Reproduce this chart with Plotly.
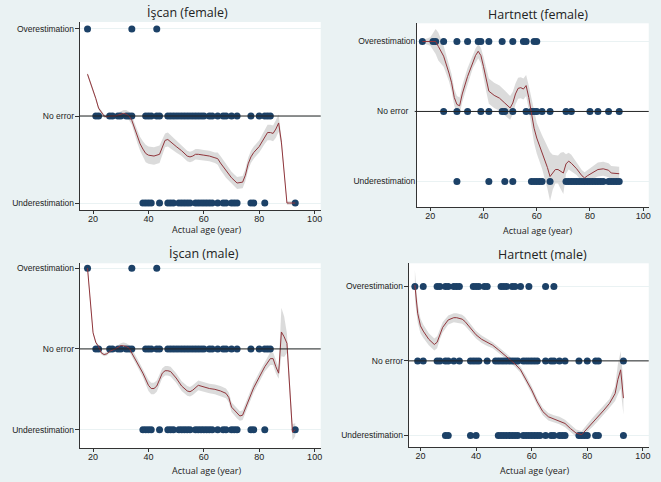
import plotly.graph_objects as go

# ---------------- data ----------------
CAT_VALS = [-1, 0, 1]
CAT_TEXT = ["Underestimation", "No error", "Overestimation"]
X_TICKS = [20, 40, 60, 80, 100]
TITLES = ["İşcan (female)", "Hartnett (female)", "İşcan (male)", "Hartnett (male)"]
X_TITLE = "Actual age (year)"

# İşcan (female)
iscan_f_over = [18, 34, 43]
iscan_f_none = [21, 22, 26, 27, 29, 30, 32, 33, 34, 39, 40, 41, 43, 44, 47, 48, 49, 50, 51, 52,
                53, 54, 55, 56, 57, 58, 59, 60, 62, 63, 65, 67, 68, 70, 72, 77, 80, 82, 83, 84]
iscan_f_under = [38, 39, 40, 41, 44, 47, 48, 49, 51, 52, 53, 54, 55, 57, 58, 59, 60, 61, 62, 63,
                 65, 67, 68, 70, 71, 72, 77, 78, 82, 93]
iscan_f_age = [18, 20, 21, 22, 23, 24, 25, 26, 28, 30, 31, 32, 33, 34, 35, 36, 37, 38, 39, 40,
               42, 44, 45, 46, 47, 48, 50, 52, 54, 55, 56, 57, 58, 60, 62, 64, 65, 66, 68, 70,
               72, 74, 75, 76, 77, 78, 80, 82, 83, 84, 85, 86, 87, 88, 89, 90, 91, 93]
iscan_f_fit = [0.48, 0.30, 0.20, 0.09, 0.04, 0.00, -0.01, 0.00, 0.00, 0.02, 0.03, 0.02, 0.00, -0.05,
               -0.14, -0.24, -0.32, -0.38, -0.43, -0.45, -0.46, -0.44, -0.36, -0.28, -0.27, -0.30,
               -0.35, -0.40, -0.46, -0.47, -0.46, -0.44, -0.44, -0.45, -0.46, -0.48, -0.49, -0.54,
               -0.63, -0.71, -0.77, -0.76, -0.68, -0.55, -0.47, -0.42, -0.35, -0.24, -0.19, -0.19,
               -0.20, -0.15, -0.08, -0.30, -0.65, -1.00, -1.00, -1.00]
iscan_f_ci = [0.02, 0.02, 0.02, 0.02, 0.02, 0.02, 0.02, 0.02, 0.02, 0.03, 0.04, 0.05, 0.05, 0.05,
              0.06, 0.07, 0.08, 0.09, 0.10, 0.10, 0.10, 0.10, 0.09, 0.08, 0.08, 0.08, 0.07, 0.06,
              0.06, 0.06, 0.06, 0.06, 0.06, 0.06, 0.06, 0.06, 0.07, 0.08, 0.08, 0.07, 0.07, 0.07,
              0.07, 0.07, 0.07, 0.07, 0.07, 0.08, 0.09, 0.09, 0.09, 0.10, 0.10, 0.05, 0.03, 0.02,
              0.02, 0.02]

# Hartnett (female)
hart_f_over = [17, 21, 22, 25, 30, 34, 38, 39, 42, 47, 51, 55, 56, 59, 60]
hart_f_none = [25, 30, 34, 39, 42, 47, 48, 51, 56, 58, 59, 60, 62, 65, 71, 73, 80, 83, 87, 91]
hart_f_under = [30, 42, 48, 51, 58, 59, 60, 61, 62, 65, 71, 72, 73, 74, 75, 76, 77, 78, 79, 80,
                81, 82, 83, 84, 85, 87, 88, 89, 90, 91]
hart_f_age = [17, 20, 22, 23, 25, 27, 28, 29, 30, 31, 32, 34, 36, 37, 38, 39, 40, 41, 42, 44, 46,
              48, 50, 51, 52, 53, 54, 55, 56, 57, 58, 59, 60, 62, 64, 65, 66, 67, 68, 69, 70, 71,
              72, 73, 75, 77, 78, 79, 81, 83, 85, 87, 88, 90, 91]
hart_f_fit = [1.00, 1.00, 1.00, 0.93, 0.79, 0.55, 0.41, 0.20, 0.10, 0.08, 0.25, 0.50, 0.72, 0.80,
              0.86, 0.80, 0.64, 0.45, 0.29, 0.23, 0.19, 0.12, 0.05, 0.12, 0.25, 0.33, 0.34, 0.32,
              0.37, 0.20, 0.00, -0.24, -0.38, -0.58, -0.80, -0.93, -0.87, -0.83, -0.83, -0.85,
              -0.88, -0.75, -0.71, -0.74, -0.82, -0.92, -0.95, -0.92, -0.87, -0.83, -0.82, -0.84,
              -0.88, -0.89, -0.89]
hart_f_ci = [0.02, 0.06, 0.18, 0.20, 0.15, 0.12, 0.12, 0.12, 0.12, 0.12, 0.12, 0.12, 0.10, 0.10,
             0.10, 0.11, 0.14, 0.16, 0.18, 0.18, 0.18, 0.18, 0.17, 0.16, 0.15, 0.15, 0.15, 0.15,
             0.15, 0.17, 0.19, 0.21, 0.22, 0.24, 0.30, 0.35, 0.25, 0.20, 0.20, 0.26, 0.30, 0.14,
             0.12, 0.12, 0.09, 0.08, 0.08, 0.08, 0.09, 0.10, 0.10, 0.10, 0.10, 0.10, 0.10]

# İşcan (male)
iscan_m_over = [18, 34, 43]
iscan_m_none = [21, 22, 26, 27, 29, 30, 32, 33, 34, 39, 40, 41, 43, 44, 47, 48, 49, 50, 51, 52,
                53, 54, 55, 56, 57, 58, 59, 60, 62, 63, 65, 67, 68, 70, 72, 77, 80, 82, 83, 84]
iscan_m_under = [38, 39, 40, 41, 44, 47, 48, 49, 51, 52, 53, 54, 55, 57, 58, 59, 60, 61, 62, 63,
                 65, 67, 68, 70, 71, 72, 77, 78, 82, 93]
iscan_m_age = [18, 19, 20, 21, 22, 23, 24, 25, 26, 28, 30, 31, 32, 33, 34, 36, 38, 40, 41, 42, 43,
               44, 45, 46, 47, 48, 50, 52, 54, 55, 56, 58, 60, 62, 64, 66, 68, 69, 70, 72, 73, 74,
               76, 78, 80, 82, 84, 85, 86, 87, 88, 89, 90, 91, 92, 93]
iscan_m_fit = [1.00, 0.55, 0.20, 0.08, 0.03, -0.05, -0.07, -0.06, -0.03, 0.00, 0.04, 0.04, 0.03,
               0.01, -0.05, -0.17, -0.30, -0.45, -0.49, -0.49, -0.46, -0.38, -0.30, -0.27, -0.27,
               -0.28, -0.36, -0.46, -0.52, -0.53, -0.51, -0.45, -0.47, -0.49, -0.50, -0.52, -0.55,
               -0.60, -0.72, -0.80, -0.83, -0.82, -0.65, -0.48, -0.35, -0.22, -0.12, -0.12, -0.22,
               -0.30, 0.21, 0.15, 0.07, -0.50, -1.03, -1.00]
iscan_m_ci = [0.02, 0.02, 0.02, 0.02, 0.02, 0.02, 0.02, 0.02, 0.02, 0.02, 0.03, 0.04, 0.04, 0.04,
              0.05, 0.05, 0.05, 0.07, 0.07, 0.07, 0.07, 0.07, 0.06, 0.06, 0.06, 0.06, 0.06, 0.06,
              0.06, 0.06, 0.06, 0.06, 0.06, 0.06, 0.06, 0.06, 0.06, 0.06, 0.06, 0.06, 0.06, 0.06,
              0.06, 0.06, 0.06, 0.06, 0.08, 0.08, 0.08, 0.07, 0.30, 0.25, 0.12, 0.06, 0.10, 0.08]

# Hartnett (male)
hart_m_over = [18, 21, 26, 27, 29, 30, 32, 33, 34, 39, 40, 41, 43, 44, 49, 50, 51, 53, 54, 56, 59,
               65, 68]
hart_m_none = [19, 21, 26, 27, 29, 30, 32, 34, 38, 39, 40, 41, 44, 47, 48, 49, 50, 51, 52, 53, 54,
               55, 57, 58, 59, 60, 61, 62, 65, 67, 68, 70, 72, 77, 80, 83, 84, 93]
hart_m_under = [29, 30, 38, 40, 48, 49, 50, 51, 52, 53, 54, 55, 57, 58, 59, 60, 61, 62, 63, 65, 67,
                68, 70, 71, 72, 77, 78, 79, 80, 83, 84, 93]
hart_m_age = [18, 19, 20, 21, 23, 25, 26, 27, 28, 30, 32, 33, 35, 36, 38, 40, 42, 44, 46, 48, 50,
              52, 54, 56, 58, 60, 62, 64, 66, 68, 70, 72, 74, 76, 78, 79, 80, 82, 84, 86, 88, 90,
              91, 92, 93]
hart_m_fit = [1.02, 0.64, 0.47, 0.40, 0.29, 0.22, 0.25, 0.36, 0.45, 0.55, 0.58, 0.58, 0.56, 0.53,
              0.44, 0.35, 0.29, 0.25, 0.21, 0.15, 0.09, 0.03, -0.04, -0.12, -0.25, -0.39, -0.55,
              -0.68, -0.75, -0.78, -0.80, -0.84, -0.91, -0.97, -0.99, -0.95, -0.90, -0.82, -0.74,
              -0.66, -0.57, -0.44, -0.25, -0.12, -0.50]
hart_m_ci = [0.20, 0.12, 0.10, 0.09, 0.08, 0.08, 0.08, 0.07, 0.07, 0.06, 0.06, 0.06, 0.06, 0.06,
             0.05, 0.05, 0.05, 0.05, 0.04, 0.04, 0.04, 0.04, 0.04, 0.04, 0.05, 0.05, 0.05, 0.05,
             0.05, 0.05, 0.05, 0.05, 0.05, 0.05, 0.05, 0.05, 0.05, 0.06, 0.06, 0.06, 0.06, 0.10,
             0.20, 0.25, 0.22]

PANELS = [
    (iscan_f_over, iscan_f_none, iscan_f_under, iscan_f_age, iscan_f_fit, iscan_f_ci),
    (hart_f_over, hart_f_none, hart_f_under, hart_f_age, hart_f_fit, hart_f_ci),
    (iscan_m_over, iscan_m_none, iscan_m_under, iscan_m_age, iscan_m_fit, iscan_m_ci),
    (hart_m_over, hart_m_none, hart_m_under, hart_m_age, hart_m_fit, hart_m_ci),
]

# ---------------- layout / style ----------------
W, H = 661, 482
BG = "#eaf2f3"
NAVY = "#1c4167"
MAROON = "#90353b"
BAND = "rgba(190,190,190,0.55)"
YTICK_FONT = dict(family="Liberation Sans, Arial", size=8.5, color="#222")
XTICK_FONT = dict(family="Liberation Sans, Arial", size=9, color="#222")
TITLE_FONT = dict(family="Open Sans, Noto Sans, sans-serif", size=12.5, color="#222")
XT_FONT = dict(family="Open Sans, Noto Sans, sans-serif", size=9, color="#222")

# pixel boxes: (left, right, top, bottom), axis ranges, title and xtitle pixel anchors
BOXES = [
    dict(px=(80, 321.7), py=(22, 210), xr=(15.2, 102.2), yr=(-1.08, 1.08),
         title=(188, 12), xt=(208, 229.5), line_left=0.0),
    dict(px=(418.3, 650.7), py=(23.3, 207.3), xr=(15.0, 102.1), yr=(-1.37, 1.26),
         title=(540, 14), xt=(540, 230), line_left=-0.01),
    dict(px=(80, 321.7), py=(263.3, 448.3), xr=(15.2, 102.2), yr=(-1.23, 1.06),
         title=(205, 253), xt=(208, 470), line_left=0.0),
    dict(px=(410, 650.7), py=(263.3, 447.3), xr=(15.8, 102.1), yr=(-1.16, 1.31),
         title=(544, 254), xt=(537, 470), line_left=0.0),
]

fig = go.Figure()
annotations = []
shapes = []
layout_axes = {}

for i, (panel, box) in enumerate(zip(PANELS, BOXES)):
    over, none, under, age, fit, ci = panel
    n = "" if i == 0 else str(i + 1)
    xa, ya = "x" + n, "y" + n

    upper = [f + c for f, c in zip(fit, ci)]
    lower = [f - c for f, c in zip(fit, ci)]
    fig.add_trace(go.Scatter(x=age + age[::-1], y=upper + lower[::-1], fill="toself",
                             fillcolor=BAND, line=dict(width=0), mode="lines",
                             hoverinfo="skip", showlegend=False, xaxis=xa, yaxis=ya))

    dots_x = over + none + under
    dots_y = [1] * len(over) + [0] * len(none) + [-1] * len(under)
    fig.add_trace(go.Scatter(x=dots_x, y=dots_y, mode="markers",
                             marker=dict(color=NAVY, size=7, line=dict(width=0)),
                             showlegend=False, xaxis=xa, yaxis=ya))

    fig.add_trace(go.Scatter(x=age, y=fit, mode="lines", line=dict(color=MAROON, width=1),
                             showlegend=False, xaxis=xa, yaxis=ya))

    xd = [box["px"][0] / W, box["px"][1] / W]
    yd = [1 - box["py"][1] / H, 1 - box["py"][0] / H]
    ticktext = list(CAT_TEXT)
    if i == 1:
        ticktext[1] = "No error\u00a0\u00a0\u00a0"
    layout_axes["xaxis" + n] = dict(
        domain=xd, range=list(box["xr"]), anchor=ya, tickvals=X_TICKS,
        ticks="outside", ticklen=3, tickcolor="#333", showline=True, linecolor="#333",
        linewidth=1, showgrid=False, zeroline=False, tickfont=XTICK_FONT,
        ticklabelstandoff=-3)
    layout_axes["yaxis" + n] = dict(
        domain=yd, range=list(box["yr"]), anchor=xa, tickvals=CAT_VALS, ticktext=ticktext,
        ticks="outside" if i != 1 else "", ticklen=4, tickcolor="#333", showline=True,
        linecolor="#333", linewidth=1, showgrid=True, gridcolor=BG, gridwidth=1,
        zeroline=False, tickfont=YTICK_FONT, ticklabelstandoff=-1)

    shapes.append(dict(type="line", xref=xa + " domain", yref=ya, x0=box["line_left"], x1=1,
                       y0=0, y1=0, line=dict(color="#222", width=1), layer="above"))

    annotations.append(dict(text=TITLES[i], x=box["title"][0] / W, y=1 - box["title"][1] / H,
                            xref="paper", yref="paper", showarrow=False, xanchor="center",
                            yanchor="middle", font=TITLE_FONT))
    annotations.append(dict(text=X_TITLE, x=box["xt"][0] / W, y=1 - box["xt"][1] / H,
                            xref="paper", yref="paper", showarrow=False, xanchor="center",
                            yanchor="middle", font=XT_FONT))

fig.update_layout(width=W, height=H, autosize=False, margin=dict(l=0, r=0, t=0, b=0),
                  paper_bgcolor=BG, plot_bgcolor="white", showlegend=False,
                  annotations=annotations, shapes=shapes, **layout_axes)

fig.write_html("out.html")
